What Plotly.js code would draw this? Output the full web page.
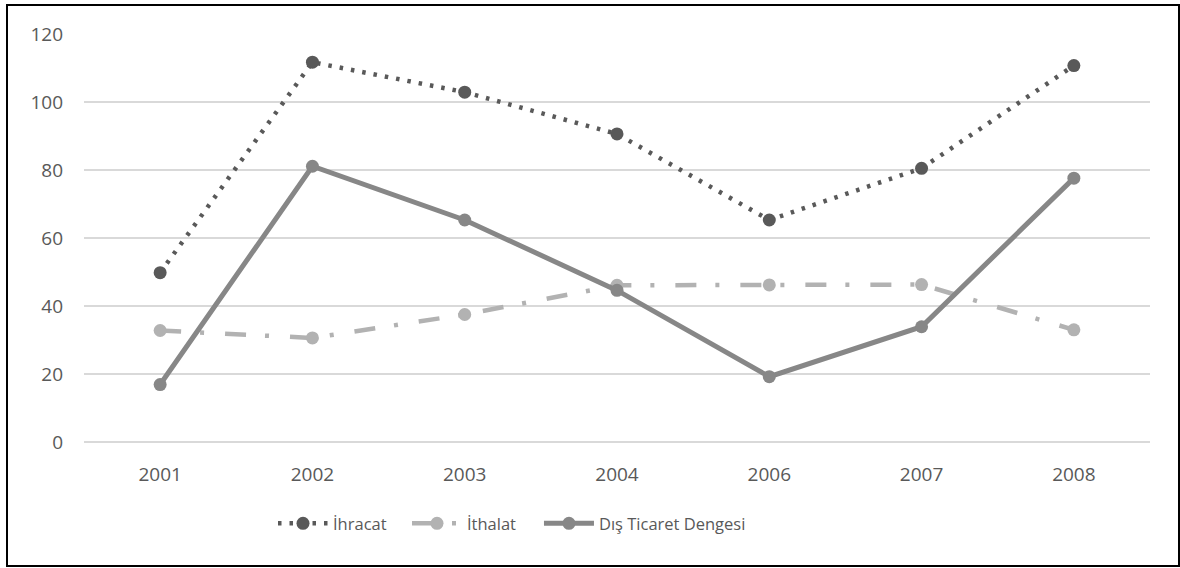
<!DOCTYPE html>
<html>
<head>
<meta charset="utf-8">
<script src="https://cdn.plot.ly/plotly-3.0.1.min.js"></script>
<style>
html,body{margin:0;padding:0;background:#fff;}
#wrap{position:relative;width:1180px;height:568px;}
#chart{width:1180px;height:568px;}
#frame{position:absolute;left:6px;top:4px;width:1170px;height:559px;border:2px solid #000;pointer-events:none;}
</style>
</head>
<body>
<div id="wrap"><div id="chart"></div><div id="frame"></div></div>
<script>
const years = ['2001','2002','2003','2004','2006','2007','2008'];
const ihracat = [49.8, 111.7, 102.9, 90.6, 65.3, 80.5, 110.7];
const ithalat = [32.8, 30.6, 37.5, 46.1, 46.2, 46.3, 33.0];
const disTicaretDengesi = [16.9, 81.1, 65.3, 44.6, 19.2, 33.9, 77.6];
const seriesNames = ['İhracat', 'İthalat', 'Dış Ticaret Dengesi'];
const yTicks = [0, 20, 40, 60, 80, 100, 120];

const font = '"Open Sans", "Noto Sans", sans-serif';
const traces = [
  {x: years, y: ihracat, name: seriesNames[0], type: 'scatter', mode: 'lines+markers', legend: 'legend',
   line: {color: '#595959', width: 4.5, dash: '3.5px,8px'},
   marker: {color: '#595959', size: 13}},
  {x: years, y: ithalat, name: seriesNames[1], type: 'scatter', mode: 'lines+markers', legend: 'legend2',
   line: {color: '#b2b2b2', width: 4.5, dash: '21px,19px,4px,21px'},
   marker: {color: '#b2b2b2', size: 13}},
  {x: years, y: disTicaretDengesi, name: seriesNames[2], type: 'scatter', mode: 'lines+markers', legend: 'legend3',
   line: {color: '#878787', width: 5},
   marker: {color: '#878787', size: 13}}
];
function leg(x) {
  return {orientation: 'h', x: x, xanchor: 'left', y: -0.2, yanchor: 'middle',
          font: {family: font, size: 16.5, color: '#595959'}, itemwidth: 50,
          bgcolor: 'rgba(0,0,0,0)'};
}
const layout = {
  width: 1180, height: 568,
  margin: {l: 84, r: 30, t: 34, b: 126},
  paper_bgcolor: '#fff', plot_bgcolor: '#fff',
  showlegend: true,
  legend: leg(0.1773), legend2: leg(0.303), legend3: leg(0.4268),
  xaxis: {type: 'category', range: [-0.5, 6.5], showgrid: false, zeroline: false,
          showline: false, ticks: '', ticklabelstandoff: 19,
          tickfont: {family: font, size: 19, color: '#595959'}, fixedrange: true},
  yaxis: {range: [0, 120], tickvals: yTicks, showgrid: true, gridcolor: '#d9d9d9', gridwidth: 1.5,
          zeroline: true, zerolinecolor: '#d9d9d9', zerolinewidth: 1.5, showline: false,
          ticks: '', ticklabelstandoff: 20,
          tickfont: {family: font, size: 19, color: '#595959'}, fixedrange: true}
};
Plotly.newPlot('chart', traces, layout, {displayModeBar: false, staticPlot: true});
</script>
</body>
</html>
